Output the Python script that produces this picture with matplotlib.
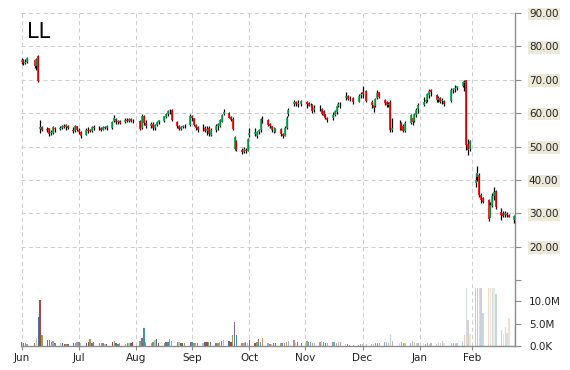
import numpy as np
import pandas as pd
import matplotlib
matplotlib.use("Agg")
import matplotlib.pyplot as plt
import matplotlib.dates as mdates
from matplotlib.colors import to_rgba

# ---------------- data ----------------
ticker = "LL"
first_day = "2014-06-30"
last_day = "2015-03-23"
market_holidays = ["2014-07-04", "2014-09-01", "2014-11-27", "2014-12-25",
                   "2015-01-01", "2015-01-19", "2015-02-16"]

opens = [
    75.2, 75.8, 75.0, 75.2,
    75.8, 74.0, 77.0, 55.3, 55.9,
    55.2, 55.4, 53.9, 54.0, 55.6,
    55.2, 55.6, 56.1, 55.8, 56.2,
    55.0, 54.6, 56.0, 55.0, 54.2,
    53.5, 55.0, 54.8, 54.6, 55.8,
    55.4, 55.6, 55.0, 55.8, 55.6,
    55.6, 57.6, 58.2, 57.2, 57.5,
    57.2, 58.0, 57.6, 58.3, 57.5,
    57.6, 55.4, 59.0, 57.0,
    56.0, 56.8, 55.4, 56.4, 57.2,
    57.6, 58.8, 59.6, 60.5, 61.0,
    57.4, 56.0, 55.2, 55.8, 56.2,
    56.5, 59.2, 58.4, 56.4, 55.8,
    55.4, 55.6, 54.6, 55.4, 53.4,
    54.8, 56.2, 56.2, 57.4, 59.8,
    60.0, 58.8, 58.2, 49.2, 51.6,
    49.0, 48.4, 49.0, 48.8, 53.4,
    53.6, 53.2, 54.2, 54.8, 58.2,
    58.0, 56.6, 56.0, 54.8, 54.4,
    55.2, 53.6, 53.2, 55.6, 59.6,
    62.6, 63.4, 62.6, 62.8,
    63.4, 63.0, 62.4, 62.4, 60.8,
    61.4, 61.2, 60.6, 59.6, 58.6,
    58.6, 59.4, 60.2, 62.0, 62.8,
    64.4, 65.2, 64.4, 64.6,
    63.4, 65.4, 66.2, 66.6,
    63.4, 62.4, 62.0, 64.6, 66.2,
    64.0, 63.2, 62.4, 63.2, 55.0,
    56.0, 57.0, 56.0, 54.6,
    57.0, 58.4, 57.6, 59.4, 61.2,
    62.4, 63.4, 63.8, 65.4, 66.8,
    65.4, 64.0, 64.6, 63.6, 63.6,
    63.6, 67.0, 67.2, 67.6,
    68.2, 69.0, 69.8, 50.8, 49.2,
    39.0, 41.0, 41.6, 35.6, 34.6,
    34.0, 29.0, 32.2, 35.2, 36.6,
    30.4, 30.2, 29.4, 29.8, 29.6,
    28.0,
]
highs = [
    76.4, 76.2, 76.3, 76.8,
    76.0, 76.6, 77.3, 57.8, 56.0,
    55.9, 55.6, 55.0, 56.0, 55.9,
    56.0, 56.5, 56.8, 56.6, 56.4,
    55.8, 56.5, 56.2, 55.5, 54.6,
    55.4, 55.8, 55.3, 56.2, 56.3,
    56.0, 55.8, 56.0, 56.2, 56.4,
    57.6, 59.4, 58.4, 57.8, 58.0,
    58.5, 58.6, 58.6, 58.5, 58.2,
    57.8, 59.6, 59.4, 57.8,
    57.3, 57.2, 56.8, 57.6, 58.0,
    59.2, 60.0, 61.0, 61.2, 61.2,
    57.7, 56.4, 56.2, 56.5, 56.8,
    59.6, 59.4, 58.5, 56.6, 56.0,
    56.6, 56.2, 56.0, 56.0, 55.6,
    56.6, 57.0, 58.2, 59.8, 61.2,
    60.2, 59.0, 58.8, 53.2, 51.8,
    49.6, 49.8, 49.6, 52.6, 55.6,
    55.6, 54.6, 55.2, 58.6, 59.2,
    58.2, 57.0, 56.2, 55.8, 55.6,
    55.4, 54.0, 56.0, 59.0, 61.6,
    64.0, 63.6, 63.8, 64.0,
    63.6, 63.4, 63.0, 62.6, 62.4,
    62.4, 61.4, 60.8, 59.8, 58.8,
    60.4, 60.8, 62.2, 63.2, 63.4,
    66.2, 65.4, 65.2, 64.8,
    65.6, 66.4, 68.0, 66.8,
    63.8, 62.8, 64.6, 67.0, 66.4,
    64.2, 63.6, 63.4, 64.0, 58.6,
    58.0, 57.4, 56.6, 57.6,
    59.8, 58.6, 60.0, 61.4, 63.0,
    64.8, 64.2, 66.0, 67.2, 67.2,
    65.6, 65.0, 64.8, 64.4, 63.8,
    67.4, 67.6, 68.4, 68.2,
    69.6, 70.0, 70.0, 52.2, 52.0,
    42.0, 44.2, 42.0, 36.2, 35.0,
    34.4, 33.4, 36.0, 38.0, 37.0,
    31.6, 30.6, 30.8, 30.4, 29.8,
    29.6,
]
lows = [
    74.6, 74.5, 74.6, 75.0,
    73.5, 72.8, 69.3, 54.0, 54.6,
    54.4, 53.2, 53.4, 53.8, 54.4,
    54.8, 55.2, 55.5, 55.0, 55.1,
    54.0, 54.4, 54.5, 53.8, 52.6,
    53.3, 54.0, 54.2, 54.4, 55.0,
    54.8, 54.6, 54.8, 55.2, 55.0,
    55.3, 57.4, 56.8, 56.6, 56.8,
    57.0, 57.4, 57.3, 57.2, 57.0,
    55.0, 55.2, 56.4, 55.6,
    55.5, 55.0, 55.0, 56.0, 56.6,
    57.2, 58.4, 59.2, 59.8, 57.5,
    55.4, 54.8, 54.9, 55.4, 55.6,
    56.2, 57.6, 56.0, 55.0, 54.2,
    54.6, 54.2, 53.5, 53.0, 53.0,
    54.4, 55.0, 55.8, 57.2, 59.4,
    58.4, 57.6, 54.8, 49.0, 48.6,
    47.8, 48.0, 48.2, 48.6, 52.8,
    53.0, 52.6, 53.6, 54.2, 57.0,
    56.0, 55.4, 54.4, 54.0, 54.2,
    53.0, 52.4, 53.0, 55.2, 59.0,
    62.0, 62.2, 61.8, 62.2,
    61.6, 62.0, 61.8, 60.0, 60.4,
    60.6, 59.4, 58.8, 58.2, 57.4,
    58.0, 59.2, 59.8, 61.8, 61.4,
    64.0, 64.0, 63.6, 62.8,
    63.2, 64.6, 64.4, 63.2,
    61.6, 60.4, 61.8, 64.2, 64.4,
    62.4, 61.8, 61.8, 54.4, 54.4,
    55.0, 54.8, 54.2, 54.4,
    56.8, 56.4, 57.4, 58.8, 60.0,
    62.0, 63.0, 63.4, 64.6, 65.2,
    63.4, 63.2, 63.0, 62.6, 62.0,
    63.4, 66.0, 66.2, 66.8,
    67.8, 66.6, 49.0, 47.6, 48.8,
    38.0, 39.6, 35.0, 33.2, 33.0,
    27.6, 28.8, 31.8, 34.0, 31.4,
    28.0, 29.0, 29.0, 28.8, 28.8,
    27.0,
]
closes = [
    75.8, 74.9, 75.4, 76.4,
    74.0, 76.2, 69.6, 55.9, 55.0,
    55.0, 53.8, 54.2, 55.7, 55.2,
    55.6, 56.2, 55.8, 56.3, 55.4,
    54.6, 56.0, 55.0, 54.2, 53.2,
    55.0, 54.6, 54.5, 55.8, 55.4,
    55.6, 54.9, 55.8, 55.6, 56.0,
    57.4, 58.4, 57.2, 57.5, 57.0,
    58.0, 57.6, 58.3, 57.5, 57.6,
    55.3, 59.2, 57.0, 56.0,
    56.8, 55.4, 56.4, 57.2, 57.8,
    59.0, 59.6, 60.5, 60.7, 57.8,
    56.0, 55.2, 55.8, 56.2, 56.0,
    59.2, 58.6, 56.4, 55.4, 55.0,
    55.6, 54.6, 55.2, 53.6, 55.0,
    56.2, 56.6, 57.8, 59.4, 60.4,
    58.6, 58.0, 55.2, 52.8, 49.0,
    48.4, 49.2, 48.8, 52.2, 54.0,
    54.2, 54.4, 54.8, 58.2, 58.0,
    56.4, 56.0, 54.8, 55.0, 55.4,
    53.6, 53.0, 55.6, 58.6, 60.8,
    63.2, 62.6, 63.0, 63.6,
    62.6, 62.2, 62.4, 60.6, 61.6,
    61.6, 59.8, 59.2, 58.6, 58.0,
    59.4, 60.6, 62.0, 62.8, 62.6,
    65.2, 64.2, 64.6, 63.2,
    65.2, 65.6, 65.8, 63.6,
    62.4, 61.4, 64.2, 66.0, 64.8,
    63.0, 62.4, 62.8, 55.0, 55.6,
    56.2, 55.2, 54.6, 57.0,
    59.4, 57.2, 59.6, 61.0, 62.4,
    63.4, 64.0, 65.6, 66.6, 66.2,
    63.8, 64.4, 63.4, 63.8, 62.6,
    67.0, 67.2, 67.6, 68.0,
    69.4, 69.2, 50.4, 49.0, 51.6,
    40.0, 42.0, 35.6, 34.0, 33.4,
    28.4, 32.6, 35.2, 36.4, 32.0,
    29.4, 29.2, 30.0, 29.6, 29.0,
    29.2,
]
volumes_m = [
    0.9, 0.6, 0.7, 0.5,
    0.6, 1.9, 6.5, 10.3, 2.4,
    1.3, 1.3, 1.0, 1.1, 0.7,
    0.6, 0.6, 0.45, 0.4, 0.45,
    0.6, 0.7, 0.9, 1.0, 0.6,
    0.75, 0.9, 1.55, 0.75, 1.0,
    0.6, 0.75, 0.6, 0.45, 0.45,
    1.0, 1.1, 0.6, 0.45, 0.6,
    0.45, 0.6, 0.75, 0.6, 0.9,
    1.1, 1.7, 4.0, 1.0,
    0.6, 1.0, 1.3, 1.5, 0.75,
    0.75, 0.9, 0.9, 1.5, 1.2,
    0.9, 0.9, 0.75, 0.6, 0.7,
    1.0, 0.9, 0.75, 0.75, 0.75,
    0.75, 1.0, 1.0, 1.0, 1.0,
    0.6, 0.75, 1.0, 1.1, 1.3,
    1.2, 1.0, 2.5, 5.4, 2.5,
    0.75, 0.75, 0.9, 0.75, 1.3,
    0.75, 1.0, 1.5, 1.0, 1.7,
    0.6, 0.45, 0.45, 0.6, 0.6,
    0.75, 0.6, 0.75, 1.0, 1.2,
    1.3, 0.75, 1.0, 0.75,
    1.1, 1.0, 0.9, 0.75, 0.75,
    1.0, 1.1, 0.9, 0.6, 0.6,
    0.9, 0.9, 0.75, 0.9, 0.9,
    0.4, 0.4, 0.25, 0.25,
    0.25, 0.4, 0.45, 0.45,
    0.45, 0.45, 0.6, 0.6, 0.6,
    0.9, 0.9, 0.75, 2.5, 1.1,
    0.75, 1.0, 0.75, 0.6,
    0.75, 1.2, 1.0, 0.6, 0.75,
    0.6, 0.45, 0.6, 0.45, 0.75,
    0.45, 0.6, 0.75, 1.2, 0.6,
    0.6, 0.75, 0.6, 0.6,
    1.1, 2.5, 12.9, 5.8, 2.8,
    12.9, 12.9, 12.9, 12.9, 7.3,
    12.9, 12.9, 12.9, 12.9, 11.6,
    3.7, 2.8, 4.3, 3.0, 6.2,
    4.3,
]

tick_dates = ["2014-06-30", "2014-07-31", "2014-08-31", "2014-09-30", "2014-10-31",
              "2014-11-30", "2014-12-31", "2015-01-31", "2015-02-28"]
tick_labels = ["Jun", "Jul", "Aug", "Sep", "Oct", "Nov", "Dec", "Jan", "Feb"]
price_ticks = [10, 20, 30, 40, 50, 60, 70, 80, 90]
price_tick_labels = ["", "20.00", "30.00", "40.00", "50.00", "60.00", "70.00", "80.00", "90.00"]
vol_ticks_m = [0, 5, 10]
vol_tick_labels = ["0.0K", "5.0M", "10.0M"]

# ---------------- build ----------------
dates = pd.bdate_range(first_day, last_day, freq="C", holidays=market_holidays)
x = mdates.date2num(dates.to_pydatetime())
o = np.array(opens); h = np.array(highs); l = np.array(lows); c = np.array(closes)
v = np.array(volumes_m) * 1e6
n = len(x)
assert len(o) == len(h) == len(l) == len(c) == len(v) == n

W, H = 570, 370
fig = plt.figure(figsize=(W / 100, H / 100), dpi=100)
fig.patch.set_facecolor("white")
axp = fig.add_axes([21 / W, 1 - 280 / H, (515 - 21) / W, (280 - 13) / H])
axv = fig.add_axes([21 / W, 1 - 346 / H, (515 - 21) / W, (346 - 280) / H], sharex=axp)

grid_kw = dict(color="#cfcfcf", lw=0.75, linestyle=(0, (4, 3)))
axis_col = "#8c8c8c"
txt_col = "#222222"

# candles
up = c > o
down = c < o
body_cols = np.where(up, "#00b050", np.where(down, "#ff0000", "#000000"))
axp.vlines(x, l, h, color="black", lw=0.9, zorder=3)
axp.vlines(x, np.minimum(o, c), np.maximum(o, c), colors=body_cols, lw=1.2, zorder=4)

# volume bars
palette = ["#4572A7", "#AA4643", "#89A54E", "#80699B", "#3D96AE",
           "#DB843D", "#92A8CD", "#A47D7C", "#B5CA92"]
frac = np.arange(n) / (n - 1)
alphas = np.clip(1.0 - np.clip(frac - 0.45, 0, None) / 0.55 * 0.75, 0.25, 1.0)
vcols = [to_rgba(palette[(i + 3) % len(palette)], alphas[i]) for i in range(n)]
axv.bar(x, v, width=0.7, color=vcols, zorder=3)

# limits
xt = mdates.date2num(pd.to_datetime(tick_dates).to_pydatetime())
axp.set_xlim(x[0] - 0.3, x[-1] + 0.3)
axp.set_ylim(price_ticks[0], price_ticks[-1])
axv.set_ylim(0, 14.8e6)

# grids
for t in price_ticks:
    axp.axhline(t, zorder=1, **grid_kw)
for t in xt:
    axp.axvline(t, zorder=1, **grid_kw)
    axv.axvline(t, zorder=1, **grid_kw)

# axis styling
for ax in (axp, axv):
    ax.set_facecolor("white")
    for s in ("left", "top"):
        ax.spines[s].set_visible(False)
    ax.spines["right"].set_color(axis_col)
    ax.spines["right"].set_linewidth(1.0)
    ax.yaxis.tick_right()
    ax.yaxis.set_label_position("right")
axp.spines["bottom"].set_visible(False)
axv.spines["bottom"].set_color(axis_col)
axv.spines["bottom"].set_linewidth(1.0)

axp.set_yticks(price_ticks)
axp.set_yticklabels(price_tick_labels)
axp.tick_params(axis="y", direction="out", length=4, width=0.8, color=axis_col,
                pad=6, labelsize=7.5, labelcolor=txt_col)
for lbl in axp.get_yticklabels():
    lbl.set_bbox(dict(facecolor="#ece9d8", edgecolor="none", pad=1.0))
axp.tick_params(axis="x", which="both", bottom=False, labelbottom=False)

axv.set_yticks([t * 1e6 for t in vol_ticks_m])
axv.set_yticklabels(vol_tick_labels)
axv.tick_params(axis="y", direction="out", length=4, width=0.8, color=axis_col,
                pad=6, labelsize=7.5, labelcolor=txt_col)
axv.set_xticks(xt)
axv.set_xticklabels(tick_labels)
axv.tick_params(axis="x", direction="out", length=3, width=0.8, color=axis_col,
                pad=2, labelsize=7.5, labelcolor=txt_col)

fig.text(27 / W, 1 - 38 / H, ticker, fontsize=15, color="black", ha="left", va="baseline")

fig.savefig("out.png", dpi=100, facecolor="white")
